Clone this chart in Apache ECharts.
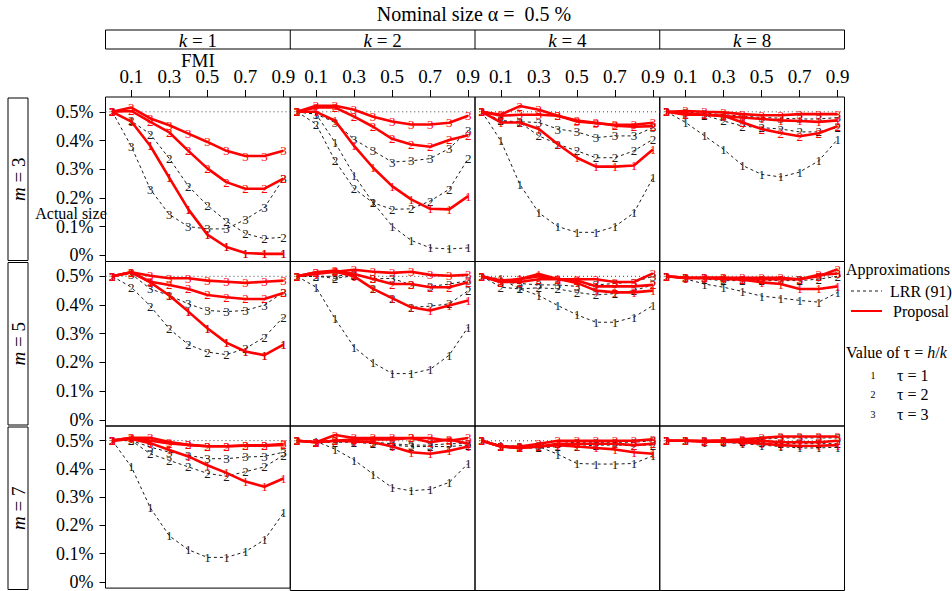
<!DOCTYPE html>
<html><head><meta charset="utf-8">
<script src="https://cdn.jsdelivr.net/npm/echarts@6/dist/echarts.min.js"></script>
<style>html,body{margin:0;padding:0;background:#fff}#c{width:952px;height:591px}</style>
</head><body><div id="c"></div>
<script>
// ---------- data ----------
const fmi = [0, 0.1, 0.2, 0.3, 0.4, 0.5, 0.6, 0.7, 0.8, 0.9];
const kLevels = [1, 2, 4, 8];
const mLevels = [3, 5, 7];
const tauLevels = [1, 2, 3];
const xTickValues = [0.1, 0.3, 0.5, 0.7, 0.9];
const yTickValues = [0, 0.1, 0.2, 0.3, 0.4, 0.5];
const nominal = 0.5;

// each array: [tau=1], [tau=2], [tau=3]  (actual size in %)
const lrr_m3_k1 = [
  [0.5,0.466,0.381,0.27,0.16,0.072,0.029,0.008,0.005,0.005],
  [0.5,0.468,0.422,0.337,0.241,0.174,0.119,0.076,0.058,0.063],
  [0.5,0.379,0.23,0.142,0.1,0.092,0.092,0.125,0.166,0.267]];
const prop_m3_k1 = [
  [0.5,0.466,0.381,0.27,0.16,0.072,0.029,0.008,0.005,0.005],
  [0.5,0.503,0.465,0.428,0.364,0.303,0.255,0.232,0.232,0.267],
  [0.5,0.515,0.477,0.453,0.424,0.395,0.364,0.346,0.346,0.364]];
const lrr_m3_k2 = [
  [0.5,0.492,0.393,0.279,0.183,0.102,0.052,0.026,0.022,0.026],
  [0.5,0.457,0.329,0.232,0.183,0.16,0.162,0.189,0.23,0.337],
  [0.5,0.492,0.463,0.404,0.364,0.325,0.329,0.337,0.372,0.434]];
const prop_m3_k2 = [
  [0.5,0.5,0.469,0.381,0.305,0.241,0.195,0.162,0.16,0.206],
  [0.5,0.515,0.515,0.483,0.448,0.406,0.386,0.378,0.402,0.418],
  [0.5,0.521,0.521,0.507,0.483,0.466,0.456,0.456,0.462,0.486]];
const lrr_m3_k4 = [
  [0.5,0.399,0.247,0.148,0.1,0.08,0.08,0.1,0.148,0.27],
  [0.5,0.469,0.463,0.416,0.387,0.364,0.34,0.34,0.364,0.404],
  [0.5,0.469,0.465,0.463,0.44,0.43,0.41,0.416,0.416,0.445]];
const prop_m3_k4 = [
  [0.5,0.463,0.463,0.44,0.387,0.34,0.309,0.309,0.313,0.369],
  [0.5,0.49,0.52,0.507,0.486,0.47,0.462,0.452,0.448,0.45],
  [0.5,0.486,0.49,0.49,0.486,0.466,0.46,0.455,0.455,0.462]];
const lrr_m3_k8 = [
  [0.5,0.463,0.416,0.369,0.313,0.282,0.273,0.29,0.329,0.404],
  [0.5,0.49,0.488,0.468,0.45,0.445,0.44,0.43,0.43,0.445],
  [0.5,0.498,0.495,0.49,0.485,0.48,0.478,0.475,0.475,0.48]];
const prop_m3_k8 = [
  [0.5,0.495,0.49,0.485,0.48,0.475,0.47,0.468,0.465,0.47],
  [0.5,0.49,0.49,0.486,0.463,0.44,0.426,0.415,0.425,0.45],
  [0.5,0.503,0.5,0.498,0.492,0.488,0.488,0.492,0.492,0.492]];
const lrr_m5_k1 = [
  [0.5,0.514,0.479,0.433,0.377,0.319,0.269,0.238,0.225,0.262],
  [0.5,0.462,0.396,0.317,0.262,0.236,0.227,0.248,0.288,0.358],
  [0.5,0.508,0.456,0.433,0.404,0.381,0.377,0.381,0.4,0.444]];
const prop_m5_k1 = [
  [0.5,0.514,0.479,0.433,0.377,0.319,0.269,0.238,0.225,0.262],
  [0.5,0.514,0.481,0.47,0.456,0.435,0.427,0.421,0.421,0.442],
  [0.5,0.514,0.502,0.493,0.493,0.485,0.481,0.477,0.481,0.485]];
const lrr_m5_k2 = [
  [0.5,0.462,0.352,0.253,0.199,0.161,0.161,0.176,0.225,0.323],
  [0.5,0.5,0.493,0.502,0.456,0.421,0.392,0.396,0.404,0.45],
  [0.5,0.5,0.5,0.508,0.491,0.493,0.47,0.465,0.473,0.485]];
const prop_m5_k2 = [
  [0.5,0.508,0.516,0.5,0.456,0.424,0.392,0.381,0.398,0.416],
  [0.5,0.514,0.52,0.508,0.491,0.473,0.473,0.462,0.462,0.479],
  [0.5,0.514,0.516,0.523,0.516,0.512,0.516,0.505,0.502,0.505]];
const lrr_m5_k4 = [
  [0.5,0.491,0.456,0.433,0.398,0.366,0.34,0.34,0.358,0.398],
  [0.5,0.462,0.456,0.46,0.456,0.444,0.435,0.44,0.45,0.47],
  [0.5,0.48,0.475,0.47,0.47,0.465,0.47,0.475,0.48,0.5]];
const prop_m5_k4 = [
  [0.5,0.479,0.491,0.508,0.491,0.477,0.45,0.444,0.444,0.45],
  [0.5,0.48,0.48,0.49,0.49,0.485,0.465,0.465,0.465,0.47],
  [0.5,0.485,0.49,0.5,0.49,0.49,0.49,0.48,0.48,0.51]];
const lrr_m5_k8 = [
  [0.5,0.491,0.473,0.462,0.447,0.431,0.424,0.416,0.41,0.444],
  [0.5,0.495,0.49,0.485,0.485,0.485,0.485,0.485,0.49,0.5],
  [0.5,0.495,0.495,0.49,0.49,0.49,0.49,0.49,0.5,0.51]];
const prop_m5_k8 = [
  [0.5,0.493,0.493,0.491,0.488,0.479,0.473,0.456,0.456,0.465],
  [0.5,0.495,0.495,0.495,0.49,0.49,0.49,0.49,0.5,0.525],
  [0.5,0.495,0.495,0.495,0.495,0.495,0.495,0.49,0.505,0.51]];
const lrr_m7_k1 = [
  [0.5,0.407,0.262,0.163,0.114,0.087,0.087,0.107,0.149,0.244],
  [0.5,0.5,0.453,0.43,0.407,0.384,0.374,0.39,0.407,0.448],
  [0.5,0.5,0.477,0.459,0.448,0.436,0.436,0.442,0.444,0.459]];
const prop_m7_k1 = [
  [0.5,0.506,0.491,0.467,0.444,0.413,0.386,0.355,0.337,0.366],
  [0.5,0.51,0.5,0.49,0.485,0.48,0.48,0.482,0.482,0.485],
  [0.5,0.51,0.51,0.495,0.485,0.48,0.48,0.483,0.483,0.488]];
const lrr_m7_k2 = [
  [0.5,0.498,0.471,0.433,0.384,0.337,0.326,0.331,0.355,0.421],
  [0.5,0.495,0.495,0.495,0.49,0.485,0.48,0.48,0.48,0.485],
  [0.5,0.495,0.5,0.5,0.495,0.49,0.485,0.485,0.49,0.49]];
const prop_m7_k2 = [
  [0.5,0.495,0.5,0.498,0.495,0.48,0.46,0.455,0.465,0.48],
  [0.5,0.495,0.5,0.505,0.505,0.505,0.51,0.495,0.505,0.49],
  [0.5,0.495,0.52,0.51,0.51,0.51,0.51,0.51,0.5,0.51]];
const lrr_m7_k4 = [
  [0.5,0.485,0.48,0.48,0.453,0.421,0.419,0.419,0.421,0.448],
  [0.5,0.48,0.475,0.475,0.48,0.48,0.485,0.485,0.485,0.485],
  [0.5,0.48,0.48,0.485,0.49,0.495,0.495,0.495,0.495,0.5]];
const prop_m7_k4 = [
  [0.5,0.48,0.475,0.48,0.485,0.48,0.475,0.47,0.46,0.455],
  [0.5,0.48,0.475,0.48,0.49,0.49,0.49,0.49,0.485,0.49],
  [0.5,0.48,0.48,0.49,0.5,0.5,0.5,0.5,0.5,0.505]];
const lrr_m7_k8 = [
  [0.5,0.5,0.495,0.495,0.49,0.485,0.48,0.475,0.475,0.478],
  [0.5,0.5,0.497,0.497,0.497,0.493,0.49,0.49,0.49,0.49],
  [0.5,0.5,0.5,0.5,0.502,0.505,0.51,0.51,0.51,0.51]];
const prop_m7_k8 = [
  [0.5,0.5,0.497,0.497,0.495,0.49,0.485,0.482,0.483,0.485],
  [0.5,0.5,0.498,0.5,0.5,0.5,0.495,0.495,0.495,0.5],
  [0.5,0.5,0.5,0.502,0.505,0.51,0.515,0.515,0.515,0.515]];

const LRR = {
  m3: {k1: lrr_m3_k1, k2: lrr_m3_k2, k4: lrr_m3_k4, k8: lrr_m3_k8},
  m5: {k1: lrr_m5_k1, k2: lrr_m5_k2, k4: lrr_m5_k4, k8: lrr_m5_k8},
  m7: {k1: lrr_m7_k1, k2: lrr_m7_k2, k4: lrr_m7_k4, k8: lrr_m7_k8}};
const PROP = {
  m3: {k1: prop_m3_k1, k2: prop_m3_k2, k4: prop_m3_k4, k8: prop_m3_k8},
  m5: {k1: prop_m5_k1, k2: prop_m5_k2, k4: prop_m5_k4, k8: prop_m5_k8},
  m7: {k1: prop_m7_k1, k2: prop_m7_k2, k4: prop_m7_k4, k8: prop_m7_k8}};

// ---------- layout ----------
const SERIF = "'Liberation Serif', 'Times New Roman', serif";
const L0 = 105.5, PW = 184.75, T0 = 97, PH = 164.5;
const XMIN = -0.036, XMAX = 0.936, YMIN = -0.0216, YMAX = 0.5516;
const BLACK = '#1a1a1a', RED = '#ff0000';

const grids = [], xAxes = [], yAxes = [], series = [];
mLevels.forEach((m, r) => {
  kLevels.forEach((k, c) => {
    const i = grids.length;
    grids.push({left: L0 + c * PW, top: T0 + r * PH, width: PW, height: PH,
      show: true, borderColor: '#000', borderWidth: 1, backgroundColor: 'transparent', containLabel: false});
    xAxes.push({gridIndex: i, type: 'value', min: XMIN, max: XMAX, position: 'top',
      axisLine: {show: false, onZero: false}, splitLine: {show: false},
      axisTick: {show: r === 0, inside: false, length: 7, lineStyle: {color: '#000'}, customValues: xTickValues},
      axisLabel: {show: r === 0, margin: 11, fontFamily: SERIF, fontSize: 19, color: '#000', customValues: xTickValues,
        formatter: v => String(v)}});
    yAxes.push({gridIndex: i, type: 'value', min: YMIN, max: YMAX,
      axisLine: {show: false, onZero: false}, splitLine: {show: false},
      axisTick: {show: c === 0, inside: false, length: 6, lineStyle: {color: '#000'}, customValues: yTickValues},
      axisLabel: {show: c === 0, margin: 12, fontFamily: SERIF, fontSize: 18, color: '#000', customValues: yTickValues,
        formatter: v => (Math.round(v * 10) / 10) + '%'}});
    const lrr = LRR['m' + m]['k' + k], prop = PROP['m' + m]['k' + k];
    // nominal reference line
    series.push({type: 'line', xAxisIndex: i, yAxisIndex: i, data: [[XMIN, nominal], [XMAX, nominal]],
      showSymbol: false, silent: true, animation: false, z: 1,
      itemStyle: {color: '#444'}, lineStyle: {color: '#444', width: 1, type: [1, 3]}});
    const mk = (vals, t, isProp) => {
      const col = isProp ? RED : BLACK;
      return {
        type: 'line', xAxisIndex: i, yAxisIndex: i, silent: true, animation: false,
        data: fmi.map((x, j) => [x, vals[j]]),
        symbol: 'circle', symbolSize: 0.01, showSymbol: true,
        itemStyle: {color: col},
        lineStyle: isProp ? {color: col, width: 2.6} : {color: col, width: 1, type: [3, 3]},
        label: {show: true, position: 'inside', formatter: String(t), fontFamily: SERIF, fontSize: 13,
          color: col, textBorderWidth: 0, textBorderColor: 'transparent'},
        z: isProp ? 4 : 3
      };
    };
    tauLevels.forEach((t, ti) => series.push(mk(lrr[ti], t, false)));
    tauLevels.forEach((t, ti) => series.push(mk(prop[ti], t, true)));
  });
});

// ---------- annotations ----------
const graphic = [];
const txt = (x, y, text, opt = {}) => graphic.push({type: 'text', x, y, rotation: opt.rotation || 0, z: 10,
  style: Object.assign({text, fontFamily: SERIF, fontSize: 16, fill: '#000', align: 'left', verticalAlign: 'middle'}, opt.style || {})});
txt(474, 14, 'Nominal size α =  0.5 %', {style: {align: 'center', fontSize: 20}});
// top strips
graphic.push({type: 'rect', shape: {x: L0, y: 30, width: PW * 4, height: 19}, style: {fill: '#fff', stroke: '#000', lineWidth: 1}, z: 5});
kLevels.forEach((k, c) => {
  if (c > 0) graphic.push({type: 'line', shape: {x1: L0 + c * PW, y1: 30, x2: L0 + c * PW, y2: 49}, style: {stroke: '#000', lineWidth: 1}, z: 6});
  graphic.push({type: 'text', x: L0 + c * PW + PW / 2, y: 40, z: 10,
    style: {text: '{i|k} = ' + k, rich: {i: {fontStyle: 'italic', fontFamily: SERIF, fontSize: 19}},
      fontFamily: SERIF, fontSize: 19, fill: '#000', align: 'center', verticalAlign: 'middle'}});
});
// left strips
mLevels.forEach((m, r) => {
  graphic.push({type: 'rect', shape: {x: 8, y: T0 + r * PH + 1, width: 20, height: PH - 2}, style: {fill: '#fff', stroke: '#000', lineWidth: 1}, z: 5});
  graphic.push({type: 'text', x: 18, y: T0 + r * PH + PH / 2, rotation: Math.PI / 2, z: 10,
    style: {text: '{i|m} = ' + m, rich: {i: {fontStyle: 'italic', fontFamily: SERIF, fontSize: 19}},
      fontFamily: SERIF, fontSize: 19, fill: '#000', align: 'center', verticalAlign: 'middle'}});
});
txt(L0 + PW / 2, 60, 'FMI', {style: {align: 'center', fontSize: 19}});
txt(71, 213, 'Actual size', {style: {align: 'center', fontSize: 16}});
// legend
txt(846, 269, 'Approximations', {style: {fontSize: 16}});
graphic.push({type: 'line', shape: {x1: 851, y1: 291, x2: 882, y2: 291}, style: {stroke: BLACK, lineWidth: 1, lineDash: [3, 3]}, z: 10});
txt(890, 291, 'LRR (91)', {style: {fontSize: 16}});
graphic.push({type: 'line', shape: {x1: 851, y1: 311, x2: 882, y2: 311}, style: {stroke: RED, lineWidth: 2}, z: 10});
txt(893, 311, 'Proposal', {style: {fontSize: 16}});
graphic.push({type: 'text', x: 846, y: 352, z: 10, style: {text: 'Value of τ = {i|h}/{i|k}',
  rich: {i: {fontStyle: 'italic', fontFamily: SERIF, fontSize: 16}}, fontFamily: SERIF, fontSize: 16, fill: '#000', verticalAlign: 'middle'}});
tauLevels.forEach((t, ti) => {
  const y = 375 + ti * 19.5;
  txt(873, y, String(t), {style: {fontSize: 10, align: 'center'}});
  txt(897, y, 'τ = ' + t, {style: {fontSize: 16}});
});

const chart = echarts.init(document.getElementById('c'), null, {renderer: 'svg', width: 952, height: 591});
chart.setOption({
  animation: false,
  backgroundColor: '#fff',
  grid: grids, xAxis: xAxes, yAxis: yAxes, series, graphic
});
</script>
</body></html>
